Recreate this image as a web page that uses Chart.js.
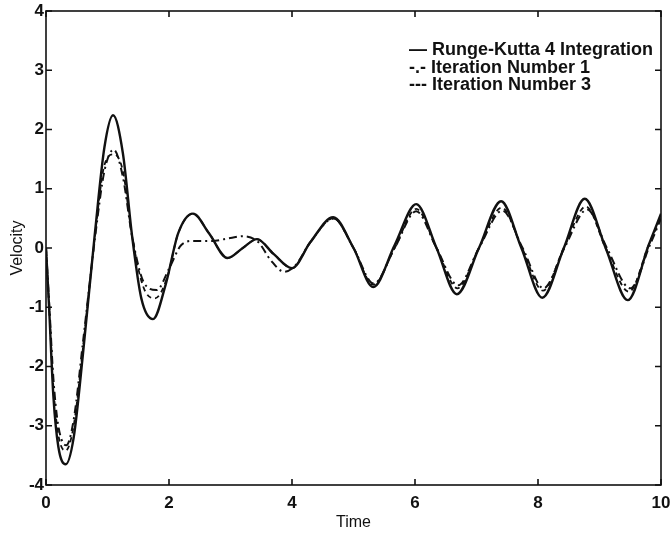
<!DOCTYPE html>
<html>
<head>
<script src="https://cdn.jsdelivr.net/npm/chart.js"></script>
<style>
body { margin: 0; background: #fff; }
#wrap { position: relative; width: 671px; height: 533px; }
#legend { position: absolute; left: 409px; top: 41px; font: bold 18px "Liberation Sans", Arial, sans-serif; color: #111; line-height: 17.5px; white-space: pre; }
</style>
</head>
<body>
<div id="wrap">
<canvas id="c" width="671" height="533"></canvas>
<div id="legend">— Runge-Kutta 4 Integration
-.- Iteration Number 1
--- Iteration Number 3</div>
</div>
<script>
// values (time, velocity)
const rkTime = [0, 0.05, 0.12, 0.2, 0.32, 0.45, 0.6, 0.8, 0.95, 1.09, 1.25, 1.4, 1.55, 1.74, 1.95, 2.15, 2.39, 2.65, 2.95, 3.2, 3.43, 3.7, 4.0, 4.3, 4.67, 5.0, 5.32, 5.67, 6.02, 6.35, 6.68, 7.04, 7.4, 7.73, 8.07, 8.42, 8.76, 9.1, 9.46, 9.8, 10];
const rkVel = [0, -1.0, -2.5, -3.35, -3.65, -3.2, -1.8, 0.3, 1.7, 2.24, 1.6, 0.2, -0.85, -1.2, -0.6, 0.25, 0.58, 0.25, -0.17, 0.0, 0.15, -0.1, -0.34, 0.1, 0.52, 0.0, -0.66, 0.05, 0.74, 0.0, -0.78, 0.0, 0.79, 0.0, -0.84, 0.0, 0.83, 0.0, -0.88, 0.05, 0.58];

const it1Time = [0, 0.05, 0.12, 0.2, 0.33, 0.45, 0.6, 0.8, 0.95, 1.1, 1.25, 1.4, 1.6, 1.8, 2.0, 2.2, 2.4, 2.7, 3.0, 3.2, 3.45, 3.65, 3.87, 4.05, 4.3, 4.68, 5.0, 5.33, 5.67, 6.02, 6.35, 6.7, 7.04, 7.42, 7.75, 8.09, 8.43, 8.8, 9.12, 9.5, 9.82, 10];
const it1Vel = [0, -0.9, -2.2, -3.0, -3.33, -2.9, -1.6, 0.2, 1.3, 1.66, 1.2, 0.2, -0.6, -0.71, -0.35, 0.05, 0.12, 0.12, 0.17, 0.2, 0.1, -0.2, -0.4, -0.3, 0.1, 0.5, 0.0, -0.6, 0.0, 0.62, 0.0, -0.63, 0.0, 0.63, 0.0, -0.68, 0.0, 0.65, 0.0, -0.68, 0.05, 0.5];

const it3Time = [0, 0.05, 0.12, 0.2, 0.32, 0.45, 0.6, 0.8, 0.95, 1.1, 1.25, 1.4, 1.58, 1.77, 1.97, 2.15, 2.39, 2.65, 2.95, 3.2, 3.43, 3.7, 4.0, 4.3, 4.67, 5.0, 5.32, 5.67, 6.02, 6.35, 6.69, 7.04, 7.41, 7.74, 8.08, 8.42, 8.78, 9.1, 9.48, 9.8, 10];
const it3Vel = [0, -0.95, -2.35, -3.15, -3.42, -3.0, -1.7, 0.25, 1.4, 1.58, 1.3, 0.2, -0.65, -0.85, -0.5, 0.25, 0.58, 0.25, -0.17, 0.0, 0.15, -0.1, -0.34, 0.1, 0.5, 0.0, -0.62, 0.0, 0.66, 0.0, -0.68, 0.0, 0.68, 0.0, -0.72, 0.0, 0.7, 0.0, -0.74, 0.05, 0.52];

const xTicks = [0, 2, 4, 6, 8, 10];
const yTicks = [-4, -3, -2, -1, 0, 1, 2, 3, 4];

function pts(t, v) { return t.map((x, i) => ({ x: x, y: v[i] })); }

const tickFont = { family: '"Liberation Sans", Arial, sans-serif', size: 17, weight: 'bold' };
const titleFont = { family: '"Liberation Sans", Arial, sans-serif', size: 16 };

// box around the plot and inward tick marks, like the original
const frame = {
  id: 'frame',
  afterDatasetsDraw(chart) {
    const { ctx, chartArea: a, scales } = chart;
    ctx.save();
    ctx.strokeStyle = '#111';
    ctx.lineWidth = 1.6;
    ctx.strokeRect(a.left, a.top, a.right - a.left, a.bottom - a.top);
    ctx.beginPath();
    xTicks.forEach(v => {
      const p = scales.x.getPixelForValue(v);
      ctx.moveTo(p, a.bottom); ctx.lineTo(p, a.bottom - 6);
      ctx.moveTo(p, a.top); ctx.lineTo(p, a.top + 6);
    });
    yTicks.forEach(v => {
      const p = scales.y.getPixelForValue(v);
      ctx.moveTo(a.left, p); ctx.lineTo(a.left + 6, p);
      ctx.moveTo(a.right, p); ctx.lineTo(a.right - 6, p);
    });
    ctx.stroke();
    ctx.restore();
  }
};

new Chart(document.getElementById('c'), {
  type: 'line',
  data: {
    datasets: [
      { label: 'Runge-Kutta 4 Integration', data: pts(rkTime, rkVel), borderColor: '#111', borderWidth: 2.4 },
      { label: 'Iteration Number 1', data: pts(it1Time, it1Vel), borderColor: '#111', borderWidth: 2, borderDash: [8, 4, 2, 4] },
      { label: 'Iteration Number 3', data: pts(it3Time, it3Vel), borderColor: '#111', borderWidth: 1.8, borderDash: [5, 4] }
    ]
  },
  options: {
    responsive: false,
    animation: false,
    elements: { point: { radius: 0 }, line: { cubicInterpolationMode: 'monotone' } },
    layout: { padding: { top: 11, right: 10 } },
    plugins: { legend: { display: false }, tooltip: { enabled: false } },
    scales: {
      x: {
        type: 'linear', min: 0, max: 10,
        afterFit(s) { s.height = 48; s.paddingLeft = 0; s.paddingRight = 0; },
        afterBuildTicks(s) { s.ticks = xTicks.map(v => ({ value: v })); },
        grid: { display: false, tickLength: 0 },
        border: { display: false },
        ticks: { color: '#111', font: tickFont, padding: 8, maxRotation: 0 },
        title: { display: true, text: 'Time', color: '#111', font: titleFont, padding: { top: 2, bottom: 1 } }
      },
      y: {
        type: 'linear', min: -4, max: 4,
        afterFit(s) { s.width = 46; s.paddingTop = 0; s.paddingBottom = 0; },
        afterBuildTicks(s) { s.ticks = yTicks.map(v => ({ value: v })); },
        grid: { display: false, tickLength: 0 },
        border: { display: false },
        ticks: { color: '#111', font: tickFont, padding: 2 },
        title: { display: true, text: 'Velocity', color: '#111', font: titleFont, padding: { top: 8, bottom: 0 } }
      }
    }
  },
  plugins: [frame]
});
</script>
</body>
</html>
